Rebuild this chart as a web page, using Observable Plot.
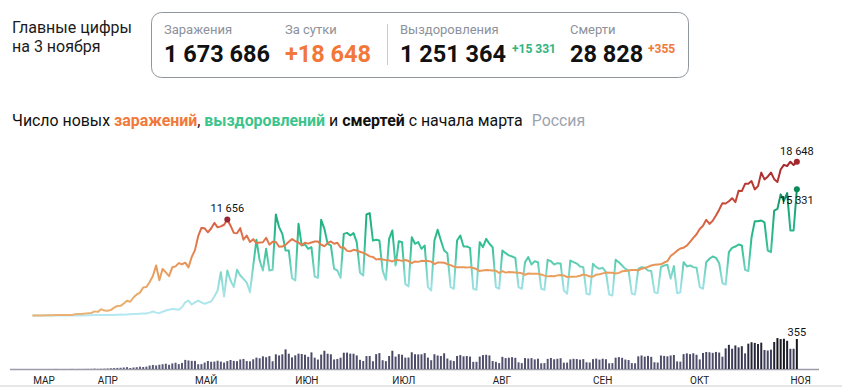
<!DOCTYPE html>
<html><head><meta charset="utf-8">
<script src="https://cdn.jsdelivr.net/npm/d3@7"></script>
<script src="https://cdn.jsdelivr.net/npm/@observablehq/plot@0.6"></script>
<style>
html,body{margin:0;padding:0;background:#fff;}
body{width:842px;height:388px;position:relative;overflow:hidden;font-family:Roboto,"Noto Sans",sans-serif;color:#111;}
#head{position:absolute;left:0;top:0;}
#lines{position:absolute;left:0;top:130px;}
#bars{position:absolute;left:0;top:320px;}
#foot{position:absolute;left:0;top:385px;width:842px;height:2px;background:#e6e6e6;}
</style></head><body>
<svg id="head" width="842" height="135"></svg>
<div id="lines"></div>
<div id="bars"></div>
<div id="foot"></div>
<script>
// ---------- data (Russia, daily, from 12 March 2020) ----------
const startDate = "2020-03-12";
const casesMar = [6,11,14,4,30,21,33,52,54,53,61,71,57,163,182,196,228,270,302,500];
const casesApr = [440,771,601,582,658,954,1154,1175,1459,1786,1667,2186,2558,2774,3388,3448,4070,4785,6060,4268,5642,5236,4774,5849,5966,6361,6198,6411,5841,7099];
const casesMay = [7933,9623,10633,10581,10102,10559,11231,10699,10817,11012,11656,10899,10028,9974,10598,9200,9709,8926,9263,8764,8849,8894,9434,8599,8946,8915,8338,8371,8572,8952,9268];
const casesJun = [9035,8863,8536,8831,8726,8855,8984,8985,8595,8404,8779,8987,8706,8835,8246,8248,7843,7790,7972,7889,7728,7600,7425,7176,7113,6800,6852,6791,6719,6693];
const casesJul = [6556,6760,6718,6632,6736,6611,6368,6562,6509,6635,6611,6615,6537,6248,6422,6428,6406,6234,6109,5940,5842,5862,5848,5811,5871,5765,5635,5395,5475,5509,5482];
const casesAug = [5462,5427,5159,5394,5204,5267,5241,5212,5189,5118,4945,5102,5057,5061,5065,4969,4839,4748,4790,4767,4870,4921,4852,4676,4696,4711,4741,4829,4980,4897,4729];
const casesSep = [4729,4952,4995,5110,5205,5185,5195,5099,5172,5363,5406,5449,5509,5529,5488,5670,5762,5905,6065,6148,6196,6215,6431,6595,7212,7523,7867,8135,8232,8481];
const casesOct = [8945,9412,9859,10499,10888,11615,11115,11493,12126,12846,13634,13592,13868,14231,13754,15150,15099,15982,15982,16319,15300,15700,17340,16521,16850,17347,16550,16202,17717,18283,18140];
const casesNov = [18665,18257,18648];

const recMar = [0,1,0,1,2,3,1,3,1,5,5,8,1,0,0,12,7,20,24,46];
const recApr = [55,50,62,67,57,75,97,112,104,134,150,170,185,220,240,250,350,480,350,280,450,600,690,800,750,690,1000,1600,1820,1330];
const recMay = [1600,1820,1600,1420,1560,1700,2300,3030,5260,2300,5460,4250,3440,5540,4850,4450,4000,2830,6000,9180,6670,5460,8090,5460,5540,12260,10720,9910,7890,7890,4530];
const recJun = [4250,11120,8500,8620,8090,8300,4730,4570,11610,10520,8700,8500,5660,5460,4570,9910,10030,9710,10000,8900,5200,4850,12260,12420,9100,9200,9100,5460,4330,9300];
const recJul = [10320,6070,9020,8900,3840,3520,9500,8700,8900,8090,8500,3440,3030,9100,10400,9100,7890,7560,3440,3240,9100,9710,8370,8370,8200,3240,3110,8900,8290,9300,8700];
const recAug = [8290,3440,3240,7890,7560,7300,7160,7000,3440,3240,6470,7080,6190,6590,6470,3240,3110,6760,6590,6190,6350,6300,3030,2630,6670,6470,6300,5950,5870,2630,2550];
const recSep = [6270,5870,5660,5790,5260,2550,2430,6760,6470,6070,5660,5460,2630,2550,5660,5870,5790,5460,5400,2830,2710,5870,6070,6150,4450,5990,2710,2830,6470,5950];
const recOct = [6070,5870,5800,3440,3240,6470,6880,7160,7000,6350,3920,3760,7690,8210,8370,8620,8500,5540,5380,9500,11450,11450,11530,11300,7890,7690,12740,12940,14700,13900,14850];
const recNov = [10320,10320,15331];

const deathsMar = [0,0,0,0,0,0,0,1,0,0,0,0,1,0,1,1,1,2,2,4];
const deathsApr = [2,3,4,6,9,11,13,15,18,22,12,18,22,28,24,28,41,48,42,51,57,63,50,66,75,58,72,108,101,96];
const deathsMay = [96,57,58,76,95,86,88,98,88,76,94,107,96,93,113,119,94,91,115,135,127,150,139,153,92,174,161,174,232,181,138];
const deathsJun = [162,182,178,169,144,197,134,112,171,216,181,174,113,119,134,193,194,182,181,161,109,95,153,154,92,176,188,104,93,154];
const deathsJul = [216,147,176,168,135,136,198,175,173,174,188,135,104,175,160,154,186,124,102,94,154,165,150,154,147,85,85,147,165,168,161];
const deathsAug = [95,85,70,144,129,134,140,132,79,70,130,124,129,114,122,68,70,120,130,115,121,128,75,76,114,121,118,110,117,80,77];
const deathsSep = [117,123,111,122,116,68,70,134,141,132,112,106,70,68,150,160,147,155,144,80,77,160,155,150,160,166,90,87,176,185];
const deathsOct = [176,186,169,114,190,201,198,191,202,195,146,244,286,240,279,256,270,185,300,317,309,296,312,225,219,229,320,366,354,358,334];
const deathsNov = [239,240,355];

const monthTicks = ["2020-03-12","2020-04-01","2020-05-01","2020-06-01","2020-07-01","2020-08-01","2020-09-01","2020-10-01","2020-11-01"];
const monthLabels = ["МАР","АПР","МАЙ","ИЮН","ИЮЛ","АВГ","СЕН","ОКТ","НОЯ"];

const introLines = ["Главные цифры","на 3 ноября"];
const cardLabels = ["Заражения","За сутки","Выздоровления","Смерти"];
const totals = [1673686, 1251364, 28828];
const titleParts = ["Число новых ","заражений",", ","выздоровлений"," и ","смертей"," с начала марта","Россия"];

// ---------- helpers ----------
const loc = d3.formatLocale({decimal:",", thousands:"\u00a0", grouping:[3], currency:["",""]});
const fmt = loc.format(",d");
const day0 = new Date(startDate + "T00:00:00Z");
const toRows = arr => arr.map((v,i) => ({date: d3.utcDay.offset(day0, i), value: v}));
const caseRows = toRows([].concat(casesMar,casesApr,casesMay,casesJun,casesJul,casesAug,casesSep,casesOct,casesNov));
const recRows = toRows([].concat(recMar,recApr,recMay,recJun,recJul,recAug,recSep,recOct,recNov));
const deathRows = toRows([].concat(deathsMar,deathsApr,deathsMay,deathsJun,deathsJul,deathsAug,deathsSep,deathsOct,deathsNov));
const xDomain = [new Date("2020-03-05T00:00:00Z"), new Date("2020-11-10T00:00:00Z")];
const tickDates = monthTicks.map(s => new Date(s + "T00:00:00Z"));
const labelMap = new Map(tickDates.map((d,i) => [+d, monthLabels[i]]));

const peak = d3.greatest(caseRows.filter(d => d.date < new Date("2020-06-01T00:00:00Z")), d => d.value);
const lastCase = caseRows[caseRows.length-1];
const lastRec = recRows[recRows.length-1];
const lastDeath = deathRows[deathRows.length-1];

const ORANGE = "#f2783a", GREEN = "#2fb482", FONT = "Roboto, 'Noto Sans', sans-serif";

// ---------- header (svg text) ----------
const head = d3.select("#head").attr("font-family", FONT);
head.selectAll("text.intro").data(introLines).join("text").attr("class","intro")
  .attr("x",12).attr("y",(d,i)=>33+i*19).attr("font-size",16).attr("fill","#1b1b1b").text(d=>d);
head.append("rect").attr("x",151.5).attr("y",12.5).attr("width",537).attr("height",65).attr("rx",10)
  .attr("fill","none").attr("stroke","#8f949d");
head.append("line").attr("x1",387.5).attr("x2",387.5).attr("y1",24).attr("y2",65).attr("stroke","#c9ccd2");
const colX = [164, 285, 400, 570];
head.selectAll("text.lab").data(cardLabels).join("text").attr("class","lab")
  .attr("x",(d,i)=>colX[i]).attr("y",34).attr("font-size",13).attr("fill","#8c919b").text(d=>d);
const bigTexts = [fmt(totals[0]), "+" + fmt(lastCase.value), fmt(totals[1]), fmt(totals[2])];
head.selectAll("text.big").data(bigTexts).join("text").attr("class","big")
  .attr("x",(d,i)=>colX[i]).attr("y",61.7).attr("font-size",23.5).attr("font-weight",700)
  .attr("fill",(d,i)=> i===1 ? ORANGE : "#111").text(d=>d);
const smalls = [{x:512, t:"+" + fmt(lastRec.value), c:GREEN},{x:648, t:"+" + fmt(lastDeath.value), c:ORANGE}];
head.selectAll("text.small").data(smalls).join("text").attr("class","small")
  .attr("x",d=>d.x).attr("y",52.7).attr("font-size",12).attr("font-weight",700).attr("fill",d=>d.c).text(d=>d.t);
const title = head.append("text").attr("x",12).attr("y",126).attr("font-size",15.9).attr("fill","#111");
const tStyles = [{},{w:700,c:ORANGE},{},{w:700,c:"#3cc48c"},{},{w:700,c:"#111"},{},{c:"#9da3ad",dx:9}];
titleParts.forEach((p,i)=>{
  const s = title.append("tspan").text(p);
  if (tStyles[i].w) s.attr("font-weight",tStyles[i].w);
  if (tStyles[i].c) s.attr("fill",tStyles[i].c);
  if (tStyles[i].dx) s.attr("dx",tStyles[i].dx);
});

// ---------- lines plot ----------
const linesPlot = Plot.plot({
  width: 842, height: 190, marginLeft: 10, marginRight: 23, marginTop: 10, marginBottom: 5,
  x: {type: "utc", domain: xDomain, axis: null},
  y: {domain: [0, 21238], axis: null},
  style: {fontFamily: FONT, background: "transparent", overflow: "visible", color: "#111"},
  marks: [
    Plot.line(recRows, {x: "date", y: "value", stroke: "url(#gRec)", strokeWidth: 2, strokeLinejoin: "round", strokeLinecap: "round"}),
    Plot.line(caseRows, {x: "date", y: "value", stroke: "url(#gCases)", strokeWidth: 2, strokeLinejoin: "round", strokeLinecap: "round"}),
    Plot.dot([peak], {x: "date", y: "value", r: 3, fill: "#952633"}),
    Plot.dot([lastCase], {x: "date", y: "value", r: 3, fill: "#a3262c"}),
    Plot.dot([lastRec], {x: "date", y: "value", r: 3, fill: "#0a8a58"}),
    Plot.text([peak, lastCase], {x: "date", y: "value", text: d => fmt(d.value), lineAnchor: "bottom", dy: -7, fontSize: 11, fill: "#111"}),
    Plot.text([lastRec], {x: "date", y: "value", text: d => fmt(d.value), lineAnchor: "top", dy: 7.5, fontSize: 11, fill: "#111"})
  ]
});
{
  const y = linesPlot.scale("y");
  const defs = d3.select(linesPlot).insert("defs", ":first-child");
  const grad = (id, stops) => {
    const top = stops[stops.length-1][0];
    const g = defs.append("linearGradient").attr("id", id).attr("gradientUnits","userSpaceOnUse")
      .attr("x1",0).attr("x2",0).attr("y1", y.apply(0)).attr("y2", y.apply(top));
    stops.forEach(([v,c]) => g.append("stop").attr("offset", v/top).attr("stop-color", c));
  };
  grad("gCases", [[0,"#e9b274"],[5000,"#e9a05e"],[8000,"#e4834f"],[11000,"#d96446"],[14000,"#c74638"],[18700,"#a3242c"]]);
  grad("gRec", [[0,"#b5e8f2"],[3000,"#a2e2e6"],[5000,"#7fd8cc"],[7000,"#4fc8a8"],[9000,"#2fbd90"],[12000,"#1eae80"],[15400,"#0b9062"]]);
}
document.getElementById("lines").appendChild(linesPlot);

// ---------- deaths bars ----------
const barColor = d3.scaleLinear().domain([0,200,280,366]).range(["#5e5e7c","#4b4b68","#30304a","#131318"]);
const barsPlot = Plot.plot({
  width: 842, height: 68, marginLeft: 10, marginRight: 23, marginTop: 0, marginBottom: 19,
  x: {type: "utc", domain: xDomain},
  y: {domain: [0, 580], axis: null},
  color: {type: "identity"},
  style: {fontFamily: FONT, background: "transparent", overflow: "visible", color: "#222"},
  marks: [
    Plot.ruleY([0], {stroke: "#9c9ca8", strokeWidth: 1.5}),
    Plot.ruleX(deathRows.filter(d => d.value > 0), {x: "date", y1: 0, y2: "value", stroke: d => barColor(d.value), strokeWidth: 2}),
    Plot.text([lastDeath], {x: "date", y: "value", text: d => fmt(d.value), lineAnchor: "bottom", dy: -4, fontSize: 11, fill: "#111"}),
    Plot.axisX({ticks: tickDates, tickFormat: d => labelMap.get(+d), tickSize: 0, tickPadding: 7, textAnchor: "start", fontSize: 10, color: "#222"})
  ]
});
document.getElementById("bars").appendChild(barsPlot);
</script>
</body></html>
